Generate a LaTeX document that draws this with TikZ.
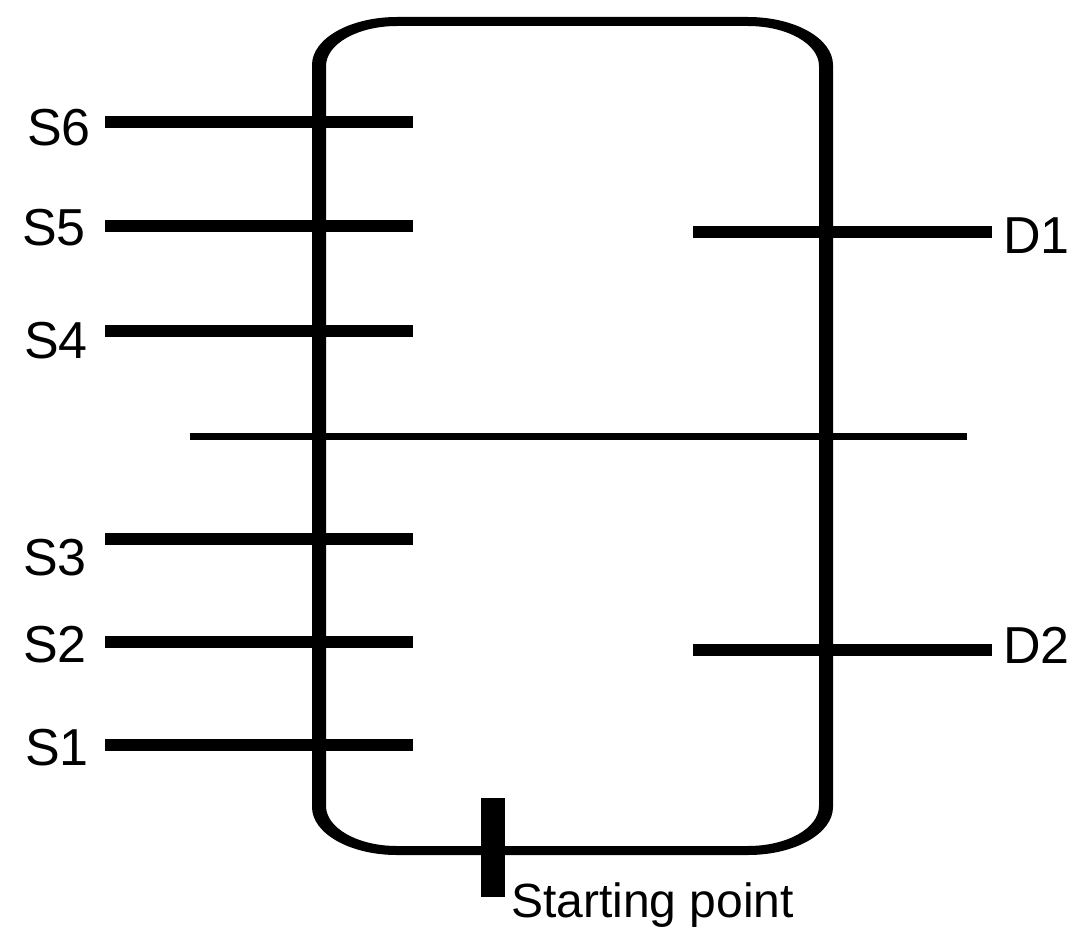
\documentclass[tikz,border=0pt]{standalone}
\usepackage{fontspec}
\setmainfont{Liberation Sans}

\begin{document}
\begin{tikzpicture}[
x=1pt,y=-1pt,
mystub/.style={
  line width=12pt},
mylabel/.style={
  inner sep=0pt,
  anchor=base west,
  font=\fontsize{52}{60}\selectfont}
]
\useasboundingbox (0,0) rectangle (1074,934);
% vessel wall, thick sides and thin top and bottom
\fill[even odd rule]
  (312,807) -- (312,65)
  arc[start angle=180,end angle=270,x radius=85,y radius=48] -- (748,17)
  arc[start angle=270,end angle=360,x radius=85,y radius=48] -- (833,807)
  arc[start angle=0,end angle=90,x radius=85,y radius=48] -- (397,855)
  arc[start angle=90,end angle=180,x radius=85,y radius=48] -- cycle
  (326,806) -- (326,66)
  arc[start angle=180,end angle=270,x radius=71,y radius=40] -- (748,26)
  arc[start angle=270,end angle=360,x radius=71,y radius=40] -- (819,806)
  arc[start angle=0,end angle=90,x radius=71,y radius=40] -- (397,846)
  arc[start angle=90,end angle=180,x radius=71,y radius=40] -- cycle;
% side streams
\foreach \Nome/\Y/\X/\B in {S6/122/27/145,S5/226/22/245,S4/331/24/358,
                            S3/539/23/575,S2/642/23/662,S1/745/25/765}
{
  \draw[mystub] (105,\Y) coordinate (\Nome L) -- (413,\Y) coordinate (\Nome R);
  \node[mylabel] (\Nome) at (\X,\B) {\Nome};
}
\foreach \Nome/\Y/\B in {D1/232/253,D2/650/663}
{
  \draw[mystub] (693,\Y) coordinate (\Nome L) -- (992,\Y) coordinate (\Nome R);
  \node[mylabel] (\Nome) at (1003,\B) {\Nome};
}
% middle line
\draw[line width=7pt] (190,436) coordinate (ML) -- (967,436) coordinate (MR);
% starting point mark
\draw[line width=24pt] (493,798) coordinate (P1) -- (493,897) coordinate (P2);
\node[mylabel,font=\fontsize{48}{56}\selectfont] (start) at (511,917) {Starting point};
\end{tikzpicture}
\end{document}
